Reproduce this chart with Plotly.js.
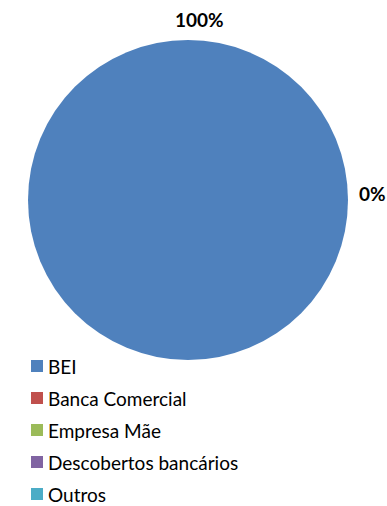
<!DOCTYPE html>
<html>
<head>
<meta charset="utf-8">
<script src="https://cdn.plot.ly/plotly-3.0.1.min.js"></script>
<style>html,body{margin:0;padding:0;background:#fff}#chart{width:387px;height:506px}</style>
</head>
<body>
<div id="chart"></div>
<script>
const categories = ["BEI", "Banca Comercial", "Empresa Mãe", "Descobertos bancários", "Outros"];
const values = [100, 0, 0, 0, 0];
const colors = ["#4F81BD", "#C0504D", "#9BBB59", "#8064A2", "#4BACC6"];

const total = values.reduce((a, b) => a + b, 0);
const pct = values.map(v => Math.round(v / total * 100) + "%");

const FONT = "Lato, 'Open Sans', sans-serif";
const W = 387, H = 506;
const px = x => x / W;
const py = y => 1 - y / H;

const traces = [{
  type: "pie",
  values: values,
  labels: categories,
  marker: {colors: colors, line: {color: "#ffffff", width: 0}},
  sort: false,
  direction: "clockwise",
  rotation: 0,
  textinfo: "none",
  hoverinfo: "label+percent",
  showlegend: false,
  domain: {x: [px(28), px(348)], y: [py(360), py(40)]}
}];

// Legend drawn as shapes + annotations (one row per category)
const legendTop = 366, legendStep = 32;
const shapes = [];
const annotations = [];
categories.forEach((c, i) => {
  const yc = legendTop + i * legendStep;
  shapes.push({
    type: "rect", xref: "paper", yref: "paper",
    x0: px(31), x1: px(43), y0: py(yc + 6), y1: py(yc - 6),
    fillcolor: colors[i], line: {width: 0}
  });
  annotations.push({
    text: c, xref: "paper", yref: "paper", x: px(47), y: py(yc),
    xanchor: "left", yanchor: "middle", showarrow: false, borderpad: 0,
    font: {family: FONT, size: 19, color: "#000000"}
  });
});

annotations.push(
  {text: "<b>" + pct[0] + "</b>", x: px(200), y: py(20), xref: "paper", yref: "paper",
   showarrow: false, font: {family: FONT, size: 19, color: "#000000"}, xanchor: "center", yanchor: "middle"},
  {text: "<b>" + pct[1] + "</b>", x: px(372), y: py(193), xref: "paper", yref: "paper",
   showarrow: false, font: {family: FONT, size: 19, color: "#000000"}, xanchor: "center", yanchor: "middle"}
);

const layout = {
  width: W,
  height: H,
  margin: {l: 0, r: 0, t: 0, b: 0},
  paper_bgcolor: "#ffffff",
  font: {family: FONT, size: 19, color: "#000000"},
  showlegend: false,
  shapes: shapes,
  annotations: annotations
};

Plotly.newPlot("chart", traces, layout, {displayModeBar: false, staticPlot: true});
</script>
</body>
</html>
